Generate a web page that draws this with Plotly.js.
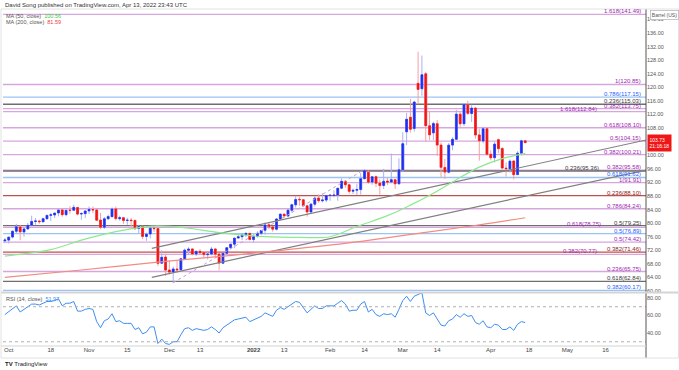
<!DOCTYPE html>
<html>
<head>
<meta charset="utf-8">
<script src="https://cdn.plot.ly/plotly-3.0.1.min.js"></script>
<style>html,body{margin:0;padding:0;background:#fff;}#chart{width:679px;height:370px;}</style>
</head>
<body>
<div id="chart"></div>
<script>
// ---- Data (daily bars, index 0 = 2021-09-30) ----
const dates = ["09-30","10-01","10-04","10-05","10-06","10-07","10-08","10-11","10-12","10-13","10-14","10-15","10-18","10-19","10-20","10-21","10-22","10-25","10-26","10-27","10-28","10-29","11-01","11-02","11-03","11-04","11-05","11-08","11-09","11-10","11-11","11-12","11-15","11-16","11-17","11-18","11-19","11-22","11-23","11-24","11-26","11-29","11-30","12-01","12-02","12-03","12-06","12-07","12-08","12-09","12-10","12-13","12-14","12-15","12-16","12-17","12-20","12-21","12-22","12-23","12-27","12-28","12-29","12-30","12-31","01-03","01-04","01-05","01-06","01-07","01-10","01-11","01-12","01-13","01-14","01-18","01-19","01-20","01-21","01-24","01-25","01-26","01-27","01-28","01-31","02-01","02-02","02-03","02-04","02-07","02-08","02-09","02-10","02-11","02-14","02-15","02-16","02-17","02-18","02-22","02-23","02-24","02-25","02-28","03-01","03-02","03-03","03-04","03-07","03-08","03-09","03-10","03-11","03-14","03-15","03-16","03-17","03-18","03-21","03-22","03-23","03-24","03-25","03-28","03-29","03-30","03-31","04-01","04-04","04-05","04-06","04-07","04-08","04-11","04-12","04-13","04-14"];
const openP  = [74.8,75.0,75.9,77.6,78.9,77.4,78.3,79.4,80.5,80.6,80.4,81.3,82.3,82.4,83.0,83.9,82.5,83.8,83.8,84.6,82.7,82.8,83.6,84.0,83.9,80.9,78.8,81.3,81.9,84.2,81.3,81.6,80.8,80.9,80.8,78.4,79.0,76.1,76.8,78.5,78.4,68.2,70.0,66.2,65.6,66.5,66.3,69.5,72.0,72.4,70.9,71.7,71.3,70.7,70.9,72.4,70.9,68.2,71.1,72.8,73.8,75.6,76.0,76.6,77.0,75.2,76.1,77.0,77.9,79.5,78.9,78.2,81.2,82.6,82.1,83.8,85.4,87.0,86.9,85.1,83.3,85.6,87.4,86.6,86.8,88.2,88.2,88.3,90.3,92.3,91.3,89.4,89.7,89.9,93.1,95.0,92.1,93.7,91.8,91.1,92.4,92.1,92.8,91.6,95.7,106.9,111.2,107.9,121.2,119.6,124.0,108.7,106.6,109.3,103.0,96.4,95.0,103.0,104.7,112.1,109.3,114.9,112.3,113.9,106.0,104.2,107.8,100.3,99.3,104.6,102.0,96.2,96.0,98.3,94.3,100.6,104.25];
const highP  = [75.6,76.0,77.8,79.8,79.5,78.4,80.1,82.2,81.5,81.0,81.6,82.5,83.0,83.1,83.9,84.3,84.0,85.0,85.4,84.8,83.2,83.8,84.9,84.9,84.2,83.0,81.8,82.5,84.6,84.9,82.2,81.7,81.6,81.5,81.0,79.5,79.3,77.2,78.5,79.0,78.6,72.0,71.0,69.0,67.2,69.0,69.8,72.5,72.9,72.6,72.0,72.3,71.5,71.5,73.0,72.5,71.0,71.3,72.9,73.9,75.8,76.9,77.1,77.3,77.0,76.9,77.6,78.0,80.2,80.0,79.2,81.5,82.9,83.0,84.1,85.7,87.9,87.9,87.0,85.4,85.9,87.9,88.5,88.8,88.3,88.5,89.7,90.4,93.2,92.7,91.5,90.2,91.6,94.7,95.8,95.5,93.8,94.0,92.9,96.0,93.3,100.5,93.0,99.1,106.8,112.5,116.6,116.0,130.5,129.4,124.6,113.1,109.9,110.4,103.8,98.9,103.6,105.3,113.4,113.0,115.4,116.1,114.9,114.2,107.8,108.4,108.0,101.5,103.9,104.9,102.4,97.9,98.8,98.5,101.2,104.6,104.3];
const lowP   = [74.1,74.0,75.5,77.0,74.96,76.0,78.1,79.3,79.5,79.8,80.2,81.0,80.6,81.5,82.0,81.9,82.0,82.8,83.6,82.3,81.0,81.5,82.7,83.0,80.6,78.25,78.3,80.9,81.8,80.8,80.7,79.8,79.5,79.0,78.0,77.0,75.3,74.8,75.5,77.4,67.4,68.0,64.4,64.9,62.43,65.5,66.0,69.3,70.6,70.5,70.3,70.8,69.9,69.3,70.5,69.9,66.1,68.0,70.6,72.3,72.6,75.5,75.0,75.9,74.9,74.3,75.7,76.4,76.6,78.2,77.5,77.9,80.9,81.6,81.8,83.1,84.6,85.1,84.8,81.9,82.8,84.9,86.0,86.1,86.2,86.6,87.6,86.6,90.0,90.4,88.7,88.6,88.3,88.4,92.9,91.6,91.3,90.6,88.4,90.1,91.2,92.1,90.1,91.3,95.0,103.0,106.7,107.0,115.0,117.5,104.0,104.5,104.5,99.8,93.5,93.0,94.7,101.5,104.5,108.0,108.6,111.9,109.8,104.9,98.4,103.5,99.9,98.5,97.9,100.6,95.8,93.7,94.9,92.9,94.2,99.9,103.6];
const closeP = [75.03,75.88,77.62,78.93,77.43,78.30,79.35,80.52,80.64,80.44,81.31,82.28,82.44,82.96,83.87,82.50,83.76,83.76,84.65,82.66,82.81,83.57,84.05,83.91,80.86,78.81,81.27,81.93,84.15,81.34,81.59,80.79,80.88,80.76,78.36,79.01,76.10,76.75,78.50,78.39,68.15,69.95,66.18,65.57,66.50,66.26,69.49,72.05,72.36,70.94,71.67,71.29,70.73,70.87,72.38,70.86,68.23,71.12,72.76,73.79,75.57,75.98,76.56,76.99,75.21,76.08,76.99,77.85,79.46,78.90,78.23,81.22,82.64,82.12,83.82,85.43,86.96,86.90,85.14,83.31,85.60,87.35,86.61,86.82,88.15,88.20,88.26,90.27,92.31,91.32,89.36,89.66,89.88,93.10,95.46,92.07,93.66,91.76,91.07,92.35,92.10,92.81,91.59,95.72,103.41,110.60,107.67,115.68,119.40,123.70,108.70,106.02,109.33,103.01,96.44,95.04,102.98,104.70,112.12,109.27,114.93,112.34,113.90,105.96,104.24,107.82,100.28,99.27,103.28,101.96,96.23,96.03,98.26,94.29,100.60,104.25,103.73];
const rsi = [61,64,68,71,64,67,70,73,73,72,74,76,76,77,79,71,74,74,76,65,65,67,68,67,53,46,54,56,62,53,54,51,51,51,44,46,39,41,47,47,28,33,28,27,30,30,38,45,46,43,45,44,43,44,47,44,40,46,49,51,55,56,57,58,53,55,57,59,63,61,59,66,69,67,70,73,76,75,69,63,67,71,68,68,71,71,71,74,77,73,65,66,66,73,76,64,67,61,59,62,61,62,58,67,77,82,76,82,84,86,63,60,63,56,49,48,54,56,61,58,62,59,60,52,50,54,47,46,50,49,44,44,47,43,50,53,51.97];

// moving averages (bar index, value)
const ma50Idx = [0,12,20,29,36,40,48,56,68,77,85,92,100,106,112,118,124,130,136];
const ma50Val = [70.3,72.2,75.0,77.5,78.8,79.2,78.5,77.2,76.0,75.8,76.0,79.0,82.2,85.3,88.8,92.8,96.5,99.0,100.56];
const ma200Idx = [0,20,40,60,72,90,110,124,136];
const ma200Val = [64.0,66.2,68.5,70.6,72.0,74.2,77.3,79.5,81.59];

// trendlines (bar index, price)
const upperTL = {x:[38.4,167.6], y:[72.59,104.50]};
const lowerTL = {x:[38.4,167.6], y:[64.04,95.66]};
const fibConn = {x:[44,94], y:[62.43,95.82]};

// fibonacci levels
const fibLabels = ["1.618(141.49)","1(120.85)","0.786(117.15)","0.236(115.03)","0.382(113.75)","1.618(112.84)","0.618(108.10)","0.5(104.15)","0.382(100.21)","0.382(95.58)","0.236(95.36)","0.618(91.62)","1(91.91)","0.236(88.10)","0.786(84.24)","0.5(79.25)","0.618(78.75)","0.5(76.89)","0.5(74.42)","0.382(71.46)","0.382(70.77)","0.236(65.75)","0.618(62.84)","0.382(60.17)"];
const fibValues = [141.49,120.85,117.15,115.03,113.75,112.84,108.10,104.15,100.21,95.58,95.36,93.45,91.91,88.10,84.24,79.25,78.75,76.89,74.42,71.46,70.77,65.75,62.84,60.17];
const fibKinds  = ["p","p","b","g","p","p","p","p","p","p","g","b","p","r","p","g","p","b","p","r","p","p","g","b"];
const fibShift  = [0,0,0,0,0,-44,0,0,0,0,-42,0,0,0,0,0,-40,0,0,0,-44,0,0,0];

// time axis
const tickIdx = [1,12,22,32,43,51,65,73,85,94,104,113,127,137,147,157];
const tickText = ["Oct","18","Nov","15","Dec","13","<b>2022</b>","13","Feb","14","Mar","14","Apr","18","May","16"];
const priceTicks = [60,64,68,72,76,80,84,88,92,96,100,108,112,116,120,124,128,132,136,140];
const rsiTicks = [40,60,80];

// ---- build ----
const idx = dates.map((d,i)=>i);
const kindLine = {p:'#d7a6df', b:'#9cc3f5', g:'#6f6f6f', r:'#c0504d'};
const kindText = {p:'#9c27b0', b:'#2962ff', g:'#3a3a3a', r:'#8b1a1a'};
const PX = (px)=> (px-3)/643, PY = (py)=> 1-(py-9)/336;

const traces = [];
traces.push({type:'scatter', mode:'lines', x:fibConn.x, y:fibConn.y, xaxis:'x', yaxis:'y',
  line:{color:'#c99ad3', width:1, dash:'dot'}, hoverinfo:'skip'});
traces.push({type:'scatter', mode:'lines', x:upperTL.x, y:upperTL.y, xaxis:'x', yaxis:'y', line:{color:'#808080', width:1.2}, hoverinfo:'skip'});
traces.push({type:'scatter', mode:'lines', x:lowerTL.x, y:lowerTL.y, xaxis:'x', yaxis:'y', line:{color:'#808080', width:1.2}, hoverinfo:'skip'});
traces.push({type:'scatter', mode:'lines', x:ma200Idx, y:ma200Val, xaxis:'x', yaxis:'y', line:{color:'#f28b82', width:1.2, shape:'spline'}, hoverinfo:'skip'});
traces.push({type:'scatter', mode:'lines', x:ma50Idx, y:ma50Val, xaxis:'x', yaxis:'y', line:{color:'#8ee88e', width:1.2, shape:'spline'}, hoverinfo:'skip'});
traces.push({type:'candlestick', x:idx, open:openP, high:highP, low:lowP, close:closeP, xaxis:'x', yaxis:'y',
  increasing:{line:{color:'#a9b0f5', width:1}, fillcolor:'#a9b0f5'},
  decreasing:{line:{color:'#f7a1a1', width:1}, fillcolor:'#f7a1a1'}, hoverinfo:'skip', whiskerwidth:0});
traces.push({type:'candlestick', x:idx, open:openP, high:openP.map((o,i)=>Math.max(o,closeP[i])), low:openP.map((o,i)=>Math.min(o,closeP[i])), close:closeP, xaxis:'x', yaxis:'y',
  increasing:{line:{color:'#1f2ff0', width:0.6}, fillcolor:'#1f2ff0'},
  decreasing:{line:{color:'#f01616', width:0.6}, fillcolor:'#f01616'}, hoverinfo:'skip', whiskerwidth:0});
traces.push({type:'scatter', mode:'lines', x:idx, y:rsi, xaxis:'x2', yaxis:'y2', line:{color:'#3d8ef0', width:1}, hoverinfo:'skip'});

const shapes = [];
const annotations = [];
fibValues.forEach((v,i)=>{
  shapes.push({type:'line', xref:'x domain', yref:'y', x0:0, x1:1, y0:v, y1:v, line:{color:kindLine[fibKinds[i]], width:1.3}, layer:'below'});
  annotations.push({xref:'x domain', yref:'y', x:1, y:v, xanchor:'right', yanchor:'bottom', xshift:-3 + fibShift[i], yshift:-2,
    text:fibLabels[i], showarrow:false, font:{size:6, color:kindText[fibKinds[i]], family:'Liberation Sans, Arial'}});
});
[70,30].forEach(v=>shapes.push({type:'line', xref:'x2 domain', yref:'y2', x0:0, x1:1, y0:v, y1:v, line:{color:'#b0b0b0', width:1, dash:'dot'}}));
shapes.push({type:'line', xref:'paper', yref:'paper', x0:1, x1:1, y0:PY(9), y1:PY(358), line:{color:'#555', width:1}});
shapes.push({type:'line', xref:'paper', yref:'paper', x0:PX(1), x1:PX(679), y0:PY(292.5), y1:PY(292.5), line:{color:'#d4d4d4', width:2}});
shapes.push({type:'line', xref:'paper', yref:'paper', x0:PX(1), x1:PX(646), y0:PY(346), y1:PY(346), line:{color:'#d4d4d4', width:1}});
shapes.push({type:'rect', xref:'paper', yref:'paper', x0:PX(1), x1:PX(678.5), y0:PY(9), y1:PY(358), line:{color:'#e2e2e2', width:1}});

const F = 'Liberation Sans, Arial, sans-serif';
annotations.push({xref:'paper', yref:'paper', x:PX(3), y:PY(5), xanchor:'left', yanchor:'middle', showarrow:false,
  text:'David Song published on TradingView.com, Apr 13, 2022 23:43 UTC', font:{size:6, color:'#333', family:F}});
annotations.push({xref:'paper', yref:'paper', x:PX(4), y:PY(15.5), xanchor:'left', yanchor:'middle', showarrow:false,
  text:'MA (50, close)  <span style="color:#3ccf3c">100.56</span>', font:{size:5.5, color:'#555', family:F}});
annotations.push({xref:'paper', yref:'paper', x:PX(4), y:PY(22), xanchor:'left', yanchor:'middle', showarrow:false,
  text:'MA (200, close)  <span style="color:#f03c3c">81.59</span>', font:{size:5.5, color:'#555', family:F}});
annotations.push({xref:'paper', yref:'paper', x:PX(4), y:PY(299), xanchor:'left', yanchor:'middle', showarrow:false,
  text:'RSI (14, close)  <span style="color:#3d8ef0">51.97</span>', font:{size:5.5, color:'#555', family:F}});
annotations.push({xref:'paper', yref:'paper', x:PX(650), y:PY(15), xanchor:'left', yanchor:'middle', showarrow:false,
  text:'Barrel (US)', font:{size:5, color:'#555', family:F}, bordercolor:'#bbb', borderwidth:0.8, borderpad:1, bgcolor:'#fff'});
annotations.push({xref:'x domain', yref:'y', x:1, y:closeP[closeP.length-1], xanchor:'left', yanchor:'middle', xshift:1, showarrow:false,
  text:'103.73<br>21:16:18', font:{size:5, color:'#fff', family:F}, bgcolor:'#f01616', borderpad:1.5, align:'left'});
annotations.push({xref:'paper', yref:'paper', x:PX(3), y:PY(364), xanchor:'left', yanchor:'middle', showarrow:false,
  text:'<b>TV</b> TradingView', font:{size:6, color:'#222', family:F}});

const layout = {
  width:679, height:370,
  margin:{l:3, r:33, t:9, b:25},
  paper_bgcolor:'#fff', plot_bgcolor:'#fff',
  showlegend:false, hovermode:false,
  font:{family:F, size:6, color:'#444'},
  xaxis:{domain:[0,1], anchor:'y', range:[-0.49,167.57], showticklabels:false, showgrid:false, zeroline:false, showline:false, ticks:'', rangeslider:{visible:false}},
  xaxis2:{domain:[0,1], anchor:'y2', matches:'x', range:[-0.49,167.57], tickmode:'array', tickvals:tickIdx, ticktext:tickText, showgrid:false, zeroline:false, showline:false, ticks:'', tickfont:{size:6, color:'#444'}, rangeslider:{visible:false}},
  yaxis:{domain:[0.1577,1], anchor:'x', side:'right', range:[59.71,143.09], tickmode:'array', tickvals:priceTicks, tickformat:'.2f', showgrid:false, zeroline:false, showline:false, ticks:'', tickfont:{size:5.5, color:'#555'}},
  yaxis2:{domain:[0,0.1548], anchor:'x2', side:'right', range:[26.3,85.7], tickmode:'array', tickvals:rsiTicks, tickformat:'.2f', showgrid:false, zeroline:false, showline:false, ticks:'', tickfont:{size:5.5, color:'#555'}},
  shapes:shapes, annotations:annotations
};
Plotly.newPlot('chart', traces, layout, {staticPlot:true, displayModeBar:false});
</script>
</body>
</html>
